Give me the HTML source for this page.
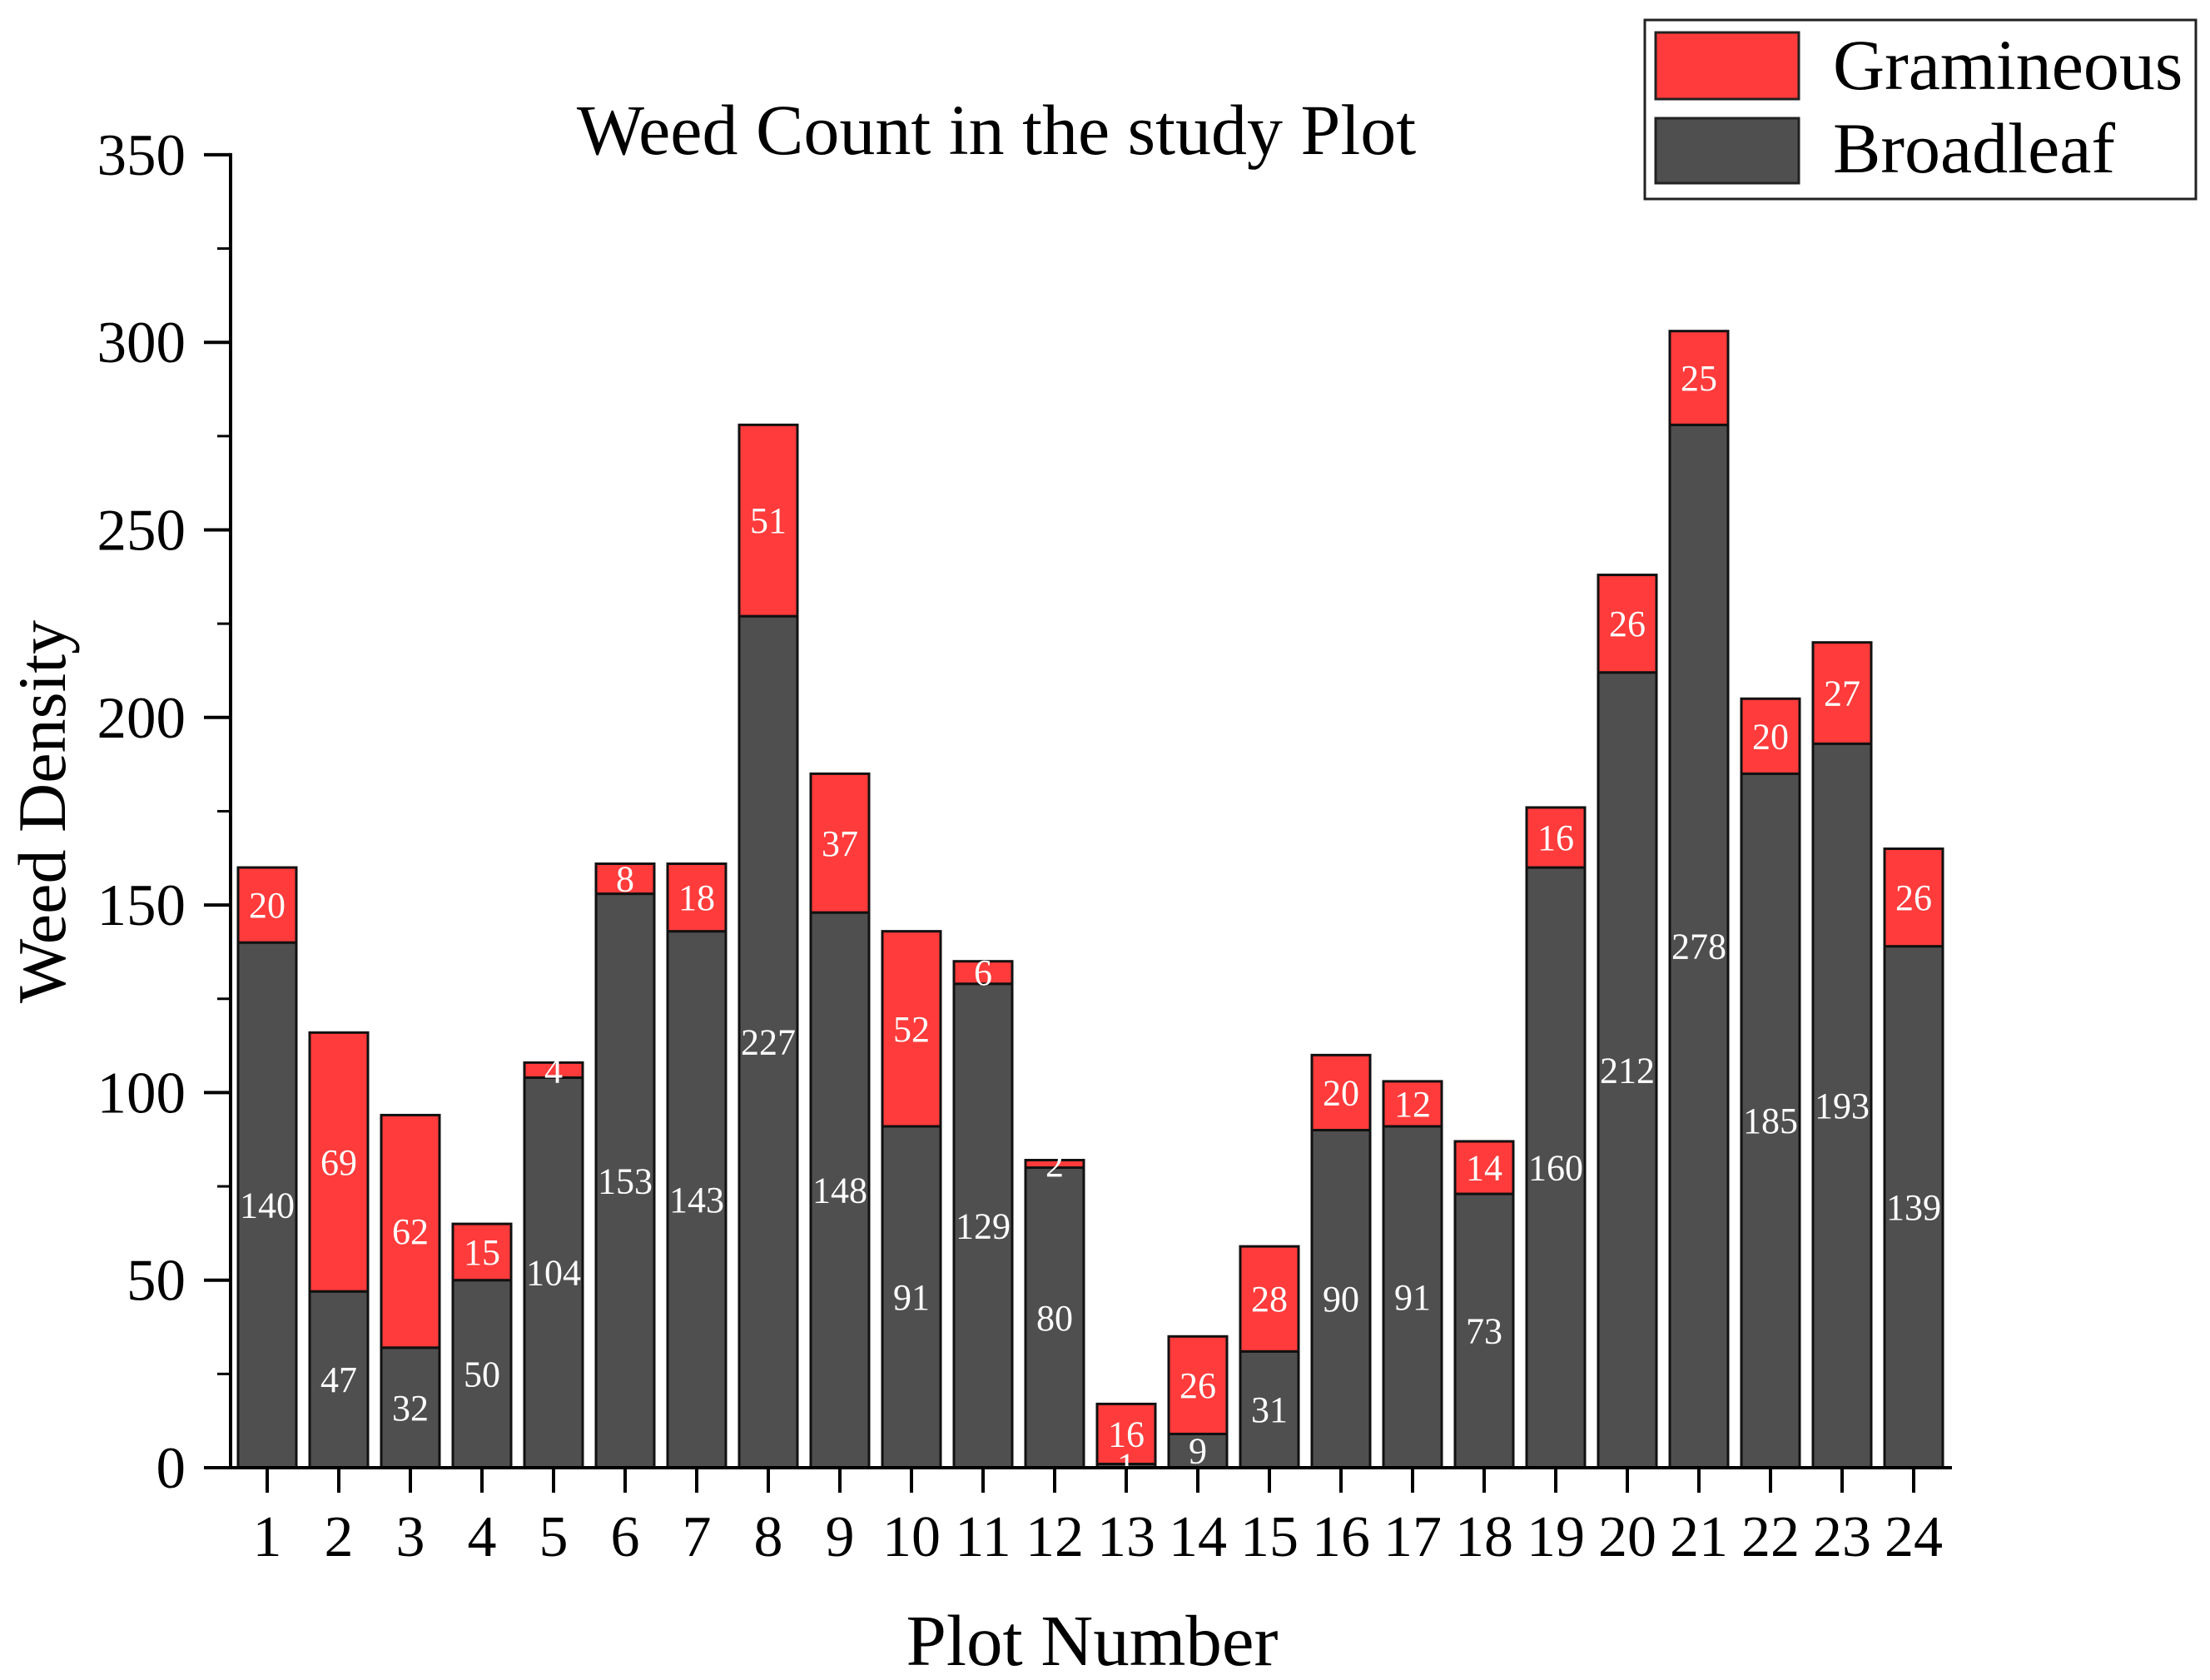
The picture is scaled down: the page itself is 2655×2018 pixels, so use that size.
<!DOCTYPE html>
<html><head><meta charset="utf-8"><style>
html,body{margin:0;padding:0;background:#fff;}
svg{display:block;font-family:"Liberation Serif","DejaVu Serif",serif;}
</style></head><body>
<svg id="chart" width="2655" height="2018" viewBox="0 0 2655 2018" xmlns="http://www.w3.org/2000/svg">
<text x="1197" y="185" font-size="86" text-anchor="middle">Weed Count in the study Plot</text>
<text transform="translate(78,975) rotate(-90)" font-size="82" text-anchor="middle">Weed Density</text>
<text x="1312" y="2000" font-size="87" text-anchor="middle">Plot Number</text>
<g id="bars"></g>
<g id="axes"></g>
<g>
<rect x="1976" y="24" width="662" height="215" fill="#fff" stroke="#222" stroke-width="3"/>
<rect x="1989" y="39" width="172" height="80" fill="#ff3b3b" stroke="#222" stroke-width="3"/>
<text x="2202" y="107" font-size="86">Gramineous</text>
<rect x="1989" y="142" width="172" height="78" fill="#4f4f4f" stroke="#222" stroke-width="3"/>
<text x="2202" y="207" font-size="86">Broadleaf</text>
</g>
</svg>
<script>
const categories = ["1","2","3","4","5","6","7","8","9","10","11","12","13","14","15","16","17","18","19","20","21","22","23","24"];
const broadleaf = [140,47,32,50,104,153,143,227,148,91,129,80,1,9,31,90,91,73,160,212,278,185,193,139];
const gramineous = [20,69,62,15,4,8,18,51,37,52,6,2,16,26,28,20,12,14,16,26,25,20,27,26];
const yTicks = [0,50,100,150,200,250,300,350];

const NS = "http://www.w3.org/2000/svg";
const y0 = 1763, pxPerUnit = 4.506, x0 = 321, step = 86.0, barW = 70;
function yScale(v){ return y0 - v*pxPerUnit; }
function xScale(i){ return x0 + i*step; }
function mk(tag, attrs, parent){ const e = document.createElementNS(NS, tag); for (const k in attrs) e.setAttribute(k, attrs[k]); parent.appendChild(e); return e; }

const bars = document.getElementById('bars');
const axes = document.getElementById('axes');

categories.forEach((c, i) => {
  const cx = xScale(i);
  const b = broadleaf[i], g = gramineous[i];
  const rb = mk('rect', {x: cx - barW/2, y: yScale(b), width: barW, height: b*pxPerUnit, fill: '#4f4f4f', stroke: '#111', 'stroke-width': 3}, bars);
  
  
  const rg = mk('rect', {x: cx - barW/2, y: yScale(b + g), width: barW, height: g*pxPerUnit, fill: '#ff3b3b', stroke: '#111', 'stroke-width': 3}, bars);
  
  
  const tb = mk('text', {x: cx, y: yScale(b/2) + 15, 'font-size': 44, fill: '#fff', 'text-anchor': 'middle'}, bars);
  tb.textContent = b;
  
  
  const tg = mk('text', {x: cx, y: yScale(b + g/2) + 15, 'font-size': 44, fill: '#fff', 'text-anchor': 'middle'}, bars);
  tg.textContent = g;
  
  
  const tk = mk('line', {x1: cx, x2: cx, y1: y0, y2: y0 + 30, stroke: '#000', 'stroke-width': 4}, axes);
  
  
  const tl = mk('text', {x: cx, y: 1869, 'font-size': 70, 'text-anchor': 'middle'}, axes);
  tl.textContent = c;
  
  
});

yTicks.forEach((v, i) => {
  const y = yScale(v);
  const tk = mk('line', {x1: 245, x2: 277, y1: y, y2: y, stroke: '#000', 'stroke-width': 4}, axes);
  
  
  const tl = mk('text', {x: 223, y: y + 24, 'font-size': 71, 'text-anchor': 'end'}, axes);
  tl.textContent = v;
  
  
  if (i < yTicks.length - 1) {
    const my = yScale(v + 25);
    const mt = mk('line', {x1: 261, x2: 277, y1: my, y2: my, stroke: '#000', 'stroke-width': 3}, axes);
    
    
  }
});

const ya = mk('line', {x1: 277, x2: 277, y1: yScale(350) - 2, y2: y0 + 2, stroke: '#000', 'stroke-width': 4}, axes);


const xa = mk('line', {x1: 245, x2: 2345, y1: y0, y2: y0, stroke: '#000', 'stroke-width': 4}, axes);


</script>
</body></html>
